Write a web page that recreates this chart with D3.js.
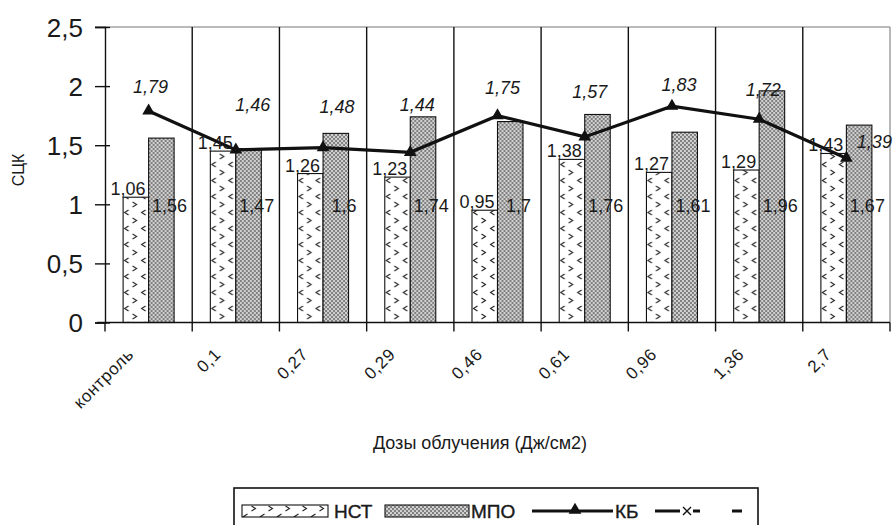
<!DOCTYPE html>
<html>
<head>
<meta charset="utf-8">
<script src="https://cdnjs.cloudflare.com/ajax/libs/d3/7.8.5/d3.min.js"></script>
<style>
  html, body { margin: 0; padding: 0; background: #fff; }
  svg { display: block; }
  text { font-family: "Liberation Sans", Arial, sans-serif; fill: #1a1a1a; }
</style>
</head>
<body>
<svg id="chart" width="896" height="525"></svg>
<script>
// Doses of irradiation (categories) and measured indices
const categories = ["контроль", "0,1", "0,27", "0,29", "0,46", "0,61", "0,96", "1,36", "2,7"];
const nstValues = [1.06, 1.45, 1.26, 1.23, 0.95, 1.38, 1.27, 1.29, 1.43];
const mpoValues = [1.56, 1.47, 1.6, 1.74, 1.7, 1.76, 1.61, 1.96, 1.67];
const kbValues  = [1.79, 1.46, 1.48, 1.44, 1.75, 1.57, 1.83, 1.72, 1.39];
const extraValues = [];
const yTicks = [0, 0.5, 1, 1.5, 2, 2.5];
const seriesNames = ["НСТ", "МПО", "КБ", ""];
const yTitle = "СЦК";
const xTitle = "Дозы облучения (Дж/см2)";

const fmt = v => String(v).replace(".", ",");

const svg = d3.select("#chart");
const plot = { left: 105, right: 890, top: 27, bottom: 322.5 };

const x = d3.scaleBand().domain(categories).range([plot.left, plot.right]).padding(0);
const y = d3.scaleLinear().domain([0, 2.5]).range([plot.bottom, plot.top]);
const barW = 25.5;

// ---- fill patterns ----
const defs = svg.append("defs");
const pNst = defs.append("pattern").attr("id", "pNst")
  .attr("patternUnits", "userSpaceOnUse").attr("width", 17).attr("height", 16);
pNst.append("rect").attr("width", 17).attr("height", 16).attr("fill", "#fff");
pNst.append("path").attr("d", "M5.5,2 L1.5,4.5 L5.5,7 M9.5,10 L13.5,12.5 L9.5,15")
  .attr("fill", "none").attr("stroke", "#222").attr("stroke-width", 1.1);

const pMpo = defs.append("pattern").attr("id", "pMpo")
  .attr("patternUnits", "userSpaceOnUse").attr("width", 4).attr("height", 4);
pMpo.append("rect").attr("width", 4).attr("height", 4).attr("fill", "#c4c4c4");
pMpo.append("circle").attr("cx", 1).attr("cy", 1).attr("r", 0.8).attr("fill", "#2a2a2a");
pMpo.append("circle").attr("cx", 3).attr("cy", 3).attr("r", 0.8).attr("fill", "#2a2a2a");
pMpo.append("circle").attr("cx", 3).attr("cy", 1).attr("r", 0.6).attr("fill", "#fff");
pMpo.append("circle").attr("cx", 1).attr("cy", 3).attr("r", 0.6).attr("fill", "#fff");

// ---- frame & category separators ----
svg.append("line").attr("x1", 95).attr("x2", plot.right).attr("y1", y(2.5)).attr("y2", y(2.5))
  .attr("stroke", "#777").attr("stroke-width", 1.2);
svg.append("line").attr("x1", plot.right).attr("x2", plot.right).attr("y1", y(2.5)).attr("y2", plot.bottom)
  .attr("stroke", "#888").attr("stroke-width", 1.2);
svg.append("g").selectAll("line").data(categories.slice(1)).join("line")
  .attr("x1", d => x(d)).attr("x2", d => x(d))
  .attr("y1", y(2.5)).attr("y2", plot.bottom)
  .attr("stroke", "#111").attr("stroke-width", 1.4);

// ---- bars ----
const nstG = svg.append("g").selectAll("g").data(categories).join("g")
  .attr("transform", (d) => `translate(${x(d) + x.bandwidth() / 2 - barW},0)`);
nstG.append("rect")
  .attr("x", 0).attr("width", barW)
  .attr("y", (d, i) => y(nstValues[i]))
  .attr("height", (d, i) => y(0) - y(nstValues[i]))
  .attr("fill", "url(#pNst)").attr("stroke", "#111").attr("stroke-width", 1.1);

const mpoG = svg.append("g").selectAll("g").data(categories).join("g")
  .attr("transform", (d) => `translate(${x(d) + x.bandwidth() / 2},0)`);
mpoG.append("rect")
  .attr("x", 0).attr("width", barW)
  .attr("y", (d, i) => y(mpoValues[i]))
  .attr("height", (d, i) => y(0) - y(mpoValues[i]))
  .attr("fill", "url(#pMpo)").attr("stroke", "#111").attr("stroke-width", 1.1);

// ---- axes ----
const yAxis = d3.axisLeft(y).tickValues(yTicks).tickFormat(fmt).tickSize(10).tickPadding(12);
const yG = svg.append("g").attr("transform", `translate(${plot.left},0)`).call(yAxis);
yG.select(".domain").attr("stroke", "#111").attr("stroke-width", 1.4);
yG.selectAll(".tick line").attr("x2", -10).attr("x1", 5).attr("stroke", "#111").attr("stroke-width", 1.4);
yG.selectAll(".tick text").attr("font-size", 26).attr("fill", "#333")
  .attr("font-family", "'Liberation Sans', Arial, sans-serif").attr("dy", "0.35em");

const bounds = categories.map(c => x(c)).concat([plot.right]);
const xG = svg.append("g");
xG.append("line").attr("x1", plot.left - 8).attr("x2", plot.right).attr("y1", y(0)).attr("y2", y(0))
  .attr("stroke", "#111").attr("stroke-width", 1.6);
xG.selectAll("line.tk").data(bounds).join("line").attr("class", "tk")
  .attr("x1", d => d).attr("x2", d => d).attr("y1", y(0)).attr("y2", y(0) + 9)
  .attr("stroke", "#111").attr("stroke-width", 1.4);
xG.selectAll("text").data(categories).join("text")
  .attr("transform", d => `translate(${x(d) + x.bandwidth() / 2 - 14},${y(0) + 33}) rotate(-45)`)
  .attr("text-anchor", "end").attr("font-size", 17).attr("fill", "#222")
  .attr("letter-spacing", 0.6)
  .text(d => d);

// ---- КБ line ----
const cx = d => x(d) + x.bandwidth() / 2;
const line = d3.line().x((d, i) => cx(categories[i])).y(d => y(d));
svg.append("path").datum(kbValues).attr("d", line)
  .attr("fill", "none").attr("stroke", "#111").attr("stroke-width", 3.2);
const tri = d3.symbol().type(d3.symbolTriangle).size(70);
svg.append("g").selectAll("path").data(kbValues).join("path")
  .attr("d", tri).attr("fill", "#111")
  .attr("transform", (d, i) => `translate(${cx(categories[i])},${y(d)})`);

// ---- data labels ----
svg.append("g").selectAll("text").data(nstValues).join("text")
  .attr("x", (d, i) => cx(categories[i]) - 3)
  .attr("y", d => y(d) - 2)
  .attr("text-anchor", "end").attr("font-size", 18)
  .text(fmt);

svg.append("g").selectAll("text").data(mpoValues).join("text")
  .attr("x", (d, i) => cx(categories[i]) + 21)
  .attr("y", y(1) + 8)
  .attr("text-anchor", "middle").attr("font-size", 18)
  .text(fmt);

// КБ labels sit above their points, nudged where they would collide
const kbShift = [[2, -24], [17, -45], [14, -41], [7, -47], [5, -28], [5, -45], [7, -21], [4, -29], [28, -16]];
svg.append("g").selectAll("text").data(kbValues).join("text")
  .attr("x", (d, i) => cx(categories[i]) + kbShift[i][0])
  .attr("y", (d, i) => y(d) + kbShift[i][1] + 6)
  .attr("text-anchor", "middle").attr("font-size", 18).attr("font-style", "italic")
  .text(fmt);

// ---- axis titles ----
svg.append("text").attr("transform", `translate(24,170) rotate(-90)`)
  .attr("text-anchor", "middle").attr("font-size", 16).text(yTitle);
svg.append("text").attr("x", 480).attr("y", 449)
  .attr("text-anchor", "middle").attr("font-size", 18).text(xTitle);

// ---- legend ----
const lg = svg.append("g");
lg.append("rect").attr("x", 234).attr("y", 488).attr("width", 524).attr("height", 60)
  .attr("fill", "#fff").attr("stroke", "#111").attr("stroke-width", 1.6);
const ly = 511;
lg.append("g").attr("transform", "translate(242,0)").append("rect")
  .attr("x", 0).attr("y", ly - 6).attr("width", 86).attr("height", 12)
  .attr("fill", "url(#pNst)").attr("stroke", "#111").attr("stroke-width", 1.1);
lg.append("text").attr("x", 334).attr("y", ly + 7).attr("font-size", 19)
  .attr("stroke", "#1a1a1a").attr("stroke-width", 0.4).text(seriesNames[0]);
lg.append("rect").attr("x", 385).attr("y", ly - 6).attr("width", 84).attr("height", 12)
  .attr("fill", "url(#pMpo)").attr("stroke", "#111").attr("stroke-width", 1.1);
lg.append("text").attr("x", 471).attr("y", ly + 7).attr("font-size", 19)
  .attr("stroke", "#1a1a1a").attr("stroke-width", 0.4).text(seriesNames[1]);
lg.append("line").attr("x1", 532).attr("x2", 613).attr("y1", ly).attr("y2", ly)
  .attr("stroke", "#111").attr("stroke-width", 3);
lg.append("path").attr("d", tri).attr("fill", "#111").attr("transform", `translate(575,${ly - 1})`);
lg.append("text").attr("x", 615).attr("y", ly + 7).attr("font-size", 19)
  .attr("stroke", "#1a1a1a").attr("stroke-width", 0.4).text(seriesNames[2]);
lg.append("line").attr("x1", 655).attr("x2", 742).attr("y1", ly).attr("y2", ly)
  .attr("stroke", "#111").attr("stroke-width", 3).attr("stroke-dasharray", "25,13,7,32,10");
lg.append("path").attr("d", "M-4,-4 L4,4 M-4,4 L4,-4").attr("stroke", "#111").attr("stroke-width", 1.4)
  .attr("transform", `translate(687,${ly})`);
lg.append("text").attr("x", 745).attr("y", ly + 7).attr("font-size", 19).text(seriesNames[3]);
lg.datum(extraValues);
</script>
</body>
</html>
